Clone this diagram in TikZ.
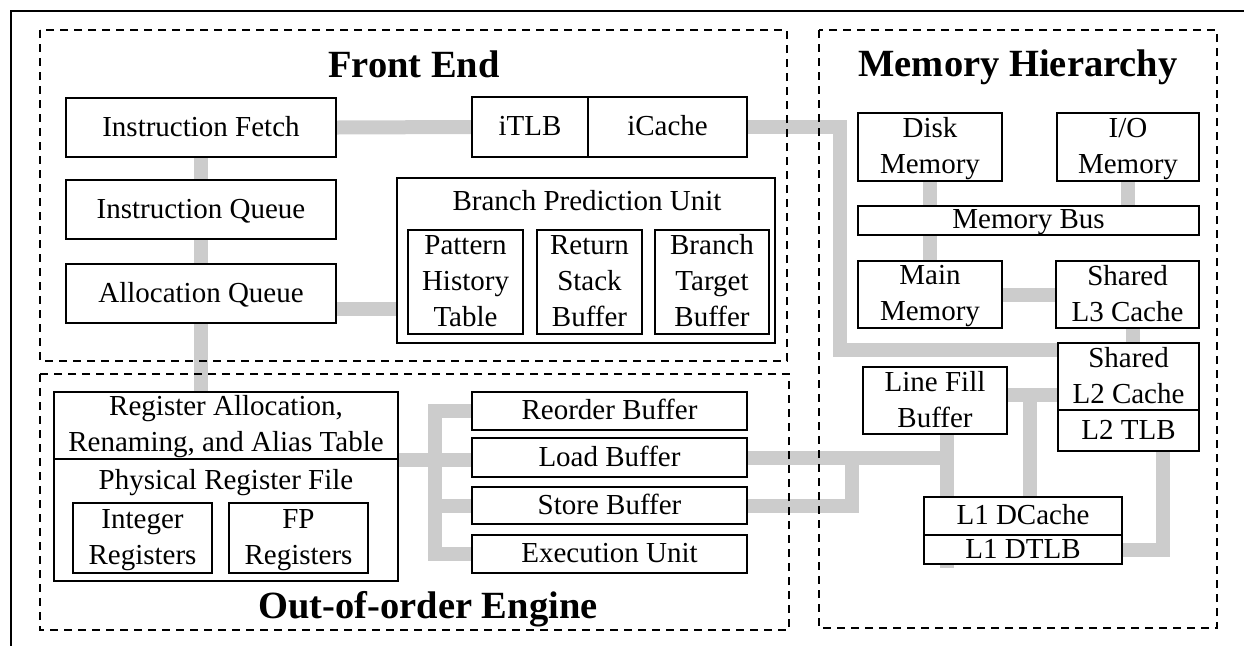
\documentclass[tikz,border=0pt]{standalone}
\usepackage{fontspec}
\setmainfont{Liberation Serif}
\usetikzlibrary{backgrounds}
\definecolor{linkgray}{RGB}{204,204,204}
% fixed line height and depth, so every line sits the same way in its box
\newcommand{\ustrut}{\rule[-0.19em]{0pt}{0.99em}}
\tikzset{
  unit/.style={draw=black, line width=2.3pt, fill=white, inner sep=0pt, align=center,
    font=\fontsize{29}{36}\selectfont},
  region/.style={draw=black, line width=2.2pt, dash pattern=on 8pt off 6pt},
  title/.style={font=\fontsize{38.5}{46}\selectfont\bfseries, anchor=base, inner sep=0pt},
  caption/.style={font=\fontsize{29}{36}\selectfont, anchor=base, inner sep=0pt},
  link/.style={draw=linkgray, line width=14pt, line join=miter},
}
\begin{document}
\begin{tikzpicture}[x=1pt, y=-1pt]
\useasboundingbox (0,0) rectangle (1244,646);

% outer frame
\draw[line width=2.5pt] (1244,11) -- (11,11) -- (11,646);

% regions
\draw[region] (40,30) rectangle (787,361);
\draw[region] (40,374) rectangle (789,630);
\draw[region] (819,30) rectangle (1217,628);
\node[title] (fetitle) at (414,77) {Front End};
\node[title] (mhtitle) at (1018,76) {Memory Hierarchy};
\node[title] (ootitle) at (428,618) {Out-of-order Engine};

% front end
\node[unit, minimum width=270, minimum height=59] (ifetch) at (201,127.5) {\ustrut Instruction Fetch};
\node[unit, minimum width=270, minimum height=59] (iqueue) at (201,209.5) {\ustrut Instruction Queue};
\node[unit, minimum width=270, minimum height=59] (aqueue) at (201,293.5) {\ustrut Allocation Queue};
\node[unit, minimum width=116, minimum height=60] (itlb) at (530,127) {\ustrut iTLB};
\node[unit, minimum width=159, minimum height=60] (icache) at (667.5,127) {\ustrut iCache};
\node[unit, minimum width=378, minimum height=165] (bpu) at (586,260.5) {};
\node[caption] (bputitle) at (587,210) {Branch Prediction Unit};
\node[unit, minimum width=115, minimum height=104] (pht) at (465.5,282) {\ustrut Pattern\\\ustrut History\\\ustrut Table};
\node[unit, minimum width=105, minimum height=104] (rsb) at (589.5,282) {\ustrut Return\\\ustrut Stack\\\ustrut Buffer};
\node[unit, minimum width=114, minimum height=104] (btb) at (712,282) {\ustrut Branch\\\ustrut Target\\\ustrut Buffer};

% out-of-order engine
\node[unit, minimum width=344, minimum height=67] (rat) at (226,425.5) {\ustrut Register Allocation,\\\ustrut Renaming, and Alias Table};
\node[unit, minimum width=344, minimum height=122] (prf) at (226,520) {};
\node[caption] (prftitle) at (226,489) {Physical Register File};
\node[unit, minimum width=139, minimum height=70] (intreg) at (142.5,538) {\ustrut Integer\\\ustrut Registers};
\node[unit, minimum width=139, minimum height=70] (fpreg) at (298.5,538) {\ustrut FP\\\ustrut Registers};
\node[unit, minimum width=275, minimum height=38] (reorder) at (609.5,411) {\ustrut Reorder Buffer};
\node[unit, minimum width=275, minimum height=39] (load) at (609.5,457.5) {\ustrut Load Buffer};
\node[unit, minimum width=275, minimum height=37] (store) at (609.5,505.5) {\ustrut Store Buffer};
\node[unit, minimum width=275, minimum height=38] (exec) at (609.5,554) {\ustrut Execution Unit};

% memory hierarchy
\node[unit, minimum width=144, minimum height=68] (disk) at (930,147) {\ustrut Disk\\\ustrut Memory};
\node[unit, minimum width=142, minimum height=68] (io) at (1128,147) {\ustrut I/O\\\ustrut Memory};
\node[unit, minimum width=341, minimum height=29] (bus) at (1028.5,220.5) {\ustrut Memory Bus};
\node[unit, minimum width=144, minimum height=67] (main) at (930,294.5) {\ustrut Main\\\ustrut Memory};
\node[unit, minimum width=143, minimum height=67] (l3) at (1127.5,294.5) {\ustrut Shared\\\ustrut L3 Cache};
\node[unit, minimum width=141, minimum height=67] (l2) at (1128.5,376.5) {\ustrut Shared\\\ustrut L2 Cache};
\node[unit, minimum width=141, minimum height=41] (l2tlb) at (1128.5,430.5) {\ustrut L2 TLB};
\node[unit, minimum width=144, minimum height=67] (lfb) at (935,400.5) {\ustrut Line Fill\\\ustrut Buffer};
\node[unit, minimum width=198, minimum height=38] (l1) at (1023,516) {\ustrut L1 DCache};
\node[unit, minimum width=198, minimum height=29] (l1tlb) at (1023,549.5) {\ustrut L1 DTLB};

% connectors, behind the units
\begin{scope}[on background layer]
\draw[link] (ifetch.south) -- (iqueue.north);
\draw[link] (iqueue.south) -- (aqueue.north);
\draw[link] (aqueue.south) -- (aqueue.south |- rat.north);
\draw[link] (ifetch.east) -- (itlb.west);
\coordinate (ibend) at (840,350);
\draw[link] (icache.east) -| (ibend) -- (ibend -| l2.west);
\coordinate (bpuin) at (0,309);
\draw[link] (aqueue.east |- bpuin) -- (bpu.west |- bpuin);
\draw[link] (disk.south) -- (disk.south |- bus.north);
\draw[link] (io.south) -- (io.south |- bus.north);
\draw[link] (main.north |- bus.south) -- (main.north);
\draw[link] (main.east) -- (l3.west);
\coordinate (l3drop) at (1133,0);
\draw[link] (l3drop |- l3.south) -- (l3drop |- l2.north);
\coordinate (fillj) at (1030,395);
\draw[link] (fillj -| lfb.east) -- (fillj -| l2.west);
\draw[link] (fillj) -- (fillj |- l1.north);
\coordinate (loadj) at (947,459);
\path (loadj |- l1tlb.south) ++(0,3) coordinate (loadend);
\draw[link] (loadj |- lfb.south) -- (loadend);
\draw[link] (load.east) -- (load.east -| loadj);
\coordinate (storej) at (852,459);
\draw[link] (store.east) -| (storej);
\coordinate (tlbj) at (1163,0);
\draw[link] (tlbj |- l2tlb.south) |- (l1tlb.east);
\coordinate (busj) at (435,0);
\draw[link] (rat.south east) -- (rat.south east -| load.west);
\draw[link] (reorder.west) -- (reorder.west -| busj) -- (exec.west -| busj) -- (exec.west);
\draw[link] (store.west -| busj) -- (store.west);
\end{scope}
\end{tikzpicture}
\end{document}
